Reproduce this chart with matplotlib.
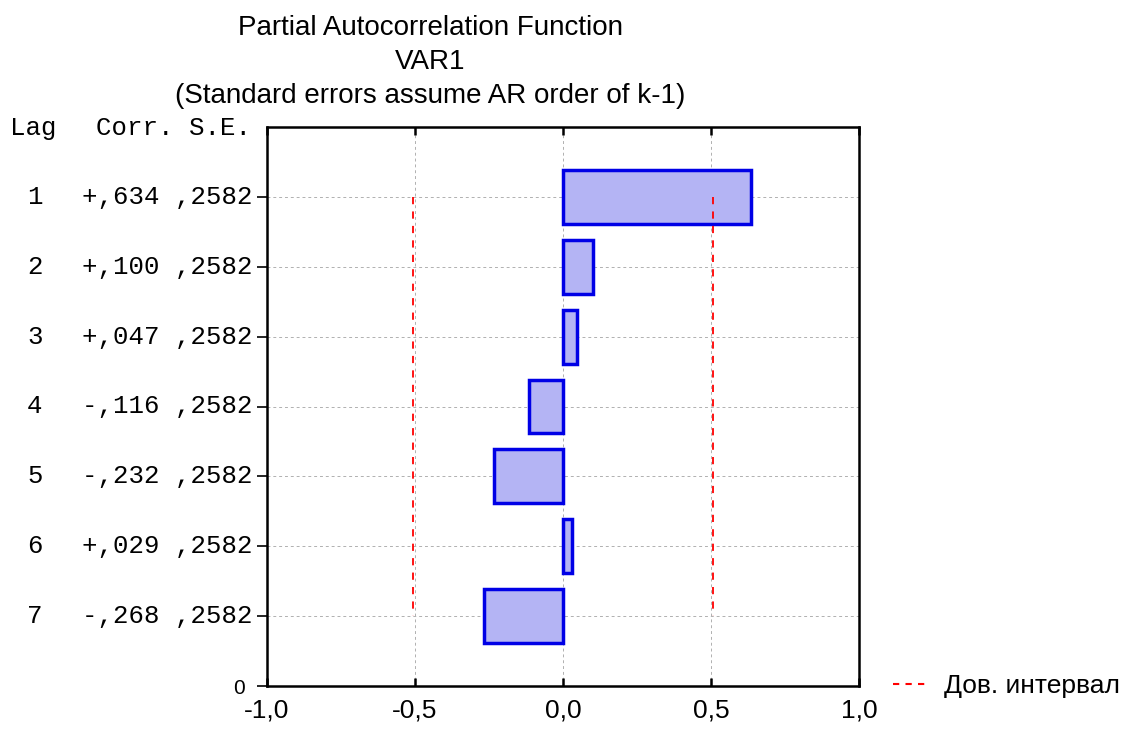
import matplotlib
matplotlib.use("Agg")
import matplotlib.pyplot as plt
from matplotlib.lines import Line2D

lags = [1, 2, 3, 4, 5, 6, 7]
corr = [0.634, 0.100, 0.047, -0.116, -0.232, 0.029, -0.268]
corr_labels = ["+,634", "+,100", "+,047", "-,116", "-,232", "+,029", "-,268"]
se = [0.2582] * 7
se_labels = [",2582"] * 7
conf = 0.506
x_ticks = [-1.0, -0.5, 0.0, 0.5, 1.0]
x_tick_labels = ["-1,0", "-0,5", "0,0", "0,5", "1,0"]
title_lines = ["Partial Autocorrelation Function", "VAR1", "(Standard errors assume AR order of k-1)"]
legend_label = "Дов. интервал"

W, H = 1137, 729
fig = plt.figure(figsize=(W / 100, H / 100), dpi=100)
ax = fig.add_axes([267 / W, 1 - 686 / H, (859 - 267) / W, (686 - 127) / H])

ax.set_xlim(-1, 1)
ax.set_ylim(8, 0)

ax.barh(lags, corr, height=0.77, left=0, color="#b4b4f4", edgecolor="#0000e6",
        linewidth=2.5, zorder=3)

ax.plot([-conf, -conf], [lags[0], lags[-1]], color="#ff0000",
        linestyle=(0, (4, 4)), linewidth=1.3, zorder=4)
ax.plot([conf, conf], [lags[0], lags[-1]], color="#ff0000",
        linestyle=(0, (4, 4)), linewidth=1.3, zorder=4)

# grid
for xv in [-0.5, 0.0, 0.5]:
    ax.axvline(xv, color="#b0b0b0", linestyle=(0, (3, 3)), linewidth=0.7, zorder=1)
for yv in lags:
    ax.axhline(yv, color="#b0b0b0", linestyle=(0, (3, 3)), linewidth=0.7, zorder=1)

for s in ax.spines.values():
    s.set_linewidth(1.8)

ax.set_xticks(x_ticks)
ax.set_xticklabels(x_tick_labels, fontsize=19, family="Liberation Sans")
ax.tick_params(axis="x", direction="in", length=6, width=1.8, pad=9, top=True)
ax.set_yticks(lags + [8])
ax.set_yticklabels([""] * 7 + ["0"], fontsize=15, family="Liberation Sans")
ax.tick_params(axis="y", direction="out", length=7, width=1.2, pad=9)

mono = "Liberation Mono"
fs = 18.5
for lg, cl, sl in zip(lags, corr_labels, se_labels):
    y = 1 - (127 + lg * (686 - 127) / 8) / H
    fig.text(35 / W, y, str(lg), ha="center", va="center", family=mono, fontsize=fs)
    fig.text(253 / W, y, cl + " " + sl, ha="right", va="center", family=mono, fontsize=fs)

yh = 1 - 128 / H
fig.text(33 / W, yh, "Lag", ha="center", va="center", family=mono, fontsize=fs)
fig.text(251 / W, yh, "Corr. S.E.", ha="right", va="center", family=mono, fontsize=fs)

for i, t in enumerate(title_lines):
    fig.text(430 / W, 1 - (28 + i * 34) / H, t, ha="center", va="center",
             family="Liberation Sans", fontsize=20)

fig.legend(handles=[Line2D([0], [0], color="#ff0000", linestyle=(0, (3, 3)), linewidth=1.5)],
           labels=[legend_label], loc="center left",
           bbox_to_anchor=(882 / W, 1 - 686 / H), frameon=False,
           prop={"family": "Liberation Sans", "size": 19},
           handlelength=1.4, handletextpad=0.55, borderaxespad=0.0)

fig.savefig("out.png", dpi=100)
